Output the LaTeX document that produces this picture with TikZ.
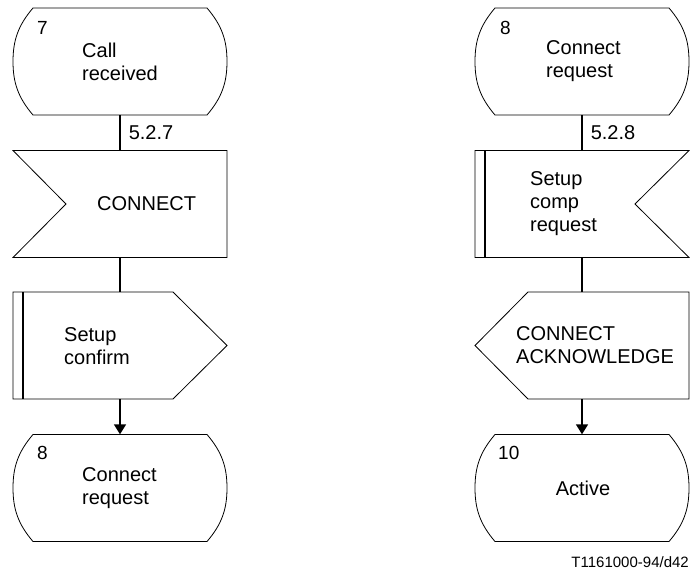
\documentclass[tikz,border=0pt]{standalone}
\usepackage{fontspec}
\setmainfont{Liberation Sans}
\usetikzlibrary{arrows.meta}

\tikzset{
  sym/.style={minimum width=214pt, minimum height=107pt, inner sep=0pt},
  outline/.style={draw, line width=0.8pt, line join=miter},
  bar/.style={line width=2pt},
  link/.style={line width=1.6pt},
  arr/.style={link, -{Triangle[width=12pt,length=10pt]}},
  txt/.style={anchor=west, align=left, inner sep=0pt, font=\fontsize{20}{23}\selectfont},
  num/.style={anchor=west, inner sep=0pt, font=\fontsize{19}{21}\selectfont},
}

% state symbol
\newcommand{\stateshape}[1]{%
  \draw[outline, shift={(#1.center)}] (-87,-53.5) -- (87,-53.5)
    .. controls (102,-36) and (107,-21) .. (107,0)
    .. controls (107,21) and (102,36) .. (87,53.5) -- (-87,53.5)
    .. controls (-102,36) and (-107,21) .. (-107,0)
    .. controls (-107,-21) and (-102,-36) .. (-87,-53.5) -- cycle;}

\begin{document}
\begin{tikzpicture}[x=1pt, y=-1pt]
\useasboundingbox (0,0) rectangle (694,574);

% left column
\node[sym] (st7) at (120,61.5) {};
\node[sym] (inconn) at (120,204) {};
\node[sym] (outconf) at (120,345.5) {};
\node[sym] (st8a) at (120,488) {};

% right column
\node[sym] (st8b) at (582,61.5) {};
\node[sym] (incomp) at (582,204) {};
\node[sym] (outack) at (582,345.5) {};
\node[sym] (st10) at (582,488) {};

\stateshape{st7}
\stateshape{st8a}
\stateshape{st8b}
\stateshape{st10}

\draw[outline, shift={(inconn.center)}] (-107,-53.5) -- (107,-53.5) -- (107,53.5) -- (-107,53.5) -- (-54,0) -- cycle;
\draw[outline, shift={(outconf.center)}] (-107,-53.5) -- (53,-53.5) -- (107,0) -- (53,53.5) -- (-107,53.5) -- cycle;
\draw[bar, shift={(outconf.center)}] (-97,-53.5) -- (-97,53.5);
\draw[outline, shift={(incomp.center)}] (-107,-53.5) -- (107,-53.5) -- (53,0) -- (107,53.5) -- (-107,53.5) -- cycle;
\draw[bar, shift={(incomp.center)}] (-97,-53.5) -- (-97,53.5);
\draw[outline, shift={(outack.center)}] (-107,0) -- (-54,-53.5) -- (107,-53.5) -- (107,53.5) -- (-54,53.5) -- cycle;

% texts
\node[num] (n7) at (37,27.5) {7};
\node[txt] (t7) at (82,61.5) {Call\\received};
\node[txt] (tconn) at (97,204) {CONNECT};
\node[txt] (tconf) at (64,346) {Setup\\confirm};
\node[num] (n8a) at (37,453) {8};
\node[txt] (t8a) at (82,488) {Connect\\request};

\node[num] (n8b) at (500,27.5) {8};
\node[txt] (t8b) at (546,61.5) {Connect\\request};
\node[txt] (tcomp) at (530,204) {Setup\\comp\\request};
\node[txt] (tack) at (516,345.5) {CONNECT\\ACKNOWLEDGE};
\node[num] (n10) at (498,453) {10};
\node[txt, anchor=center] (t10) at (583,488) {Active};

\node[anchor=east, inner sep=0pt, font=\fontsize{15}{17}\selectfont] (ref) at (689,562) {T1161000-94/d42};

% connectors
\draw[link] (st7) -- node[txt, xshift=8pt] {5.2.7} (inconn);
\draw[link] (inconn) -- (outconf);
\draw[arr] (outconf) -- (st8a);
\draw[link] (st8b) -- node[txt, xshift=8pt] {5.2.8} (incomp);
\draw[link] (incomp) -- (outack);
\draw[arr] (outack) -- (st10);
\end{tikzpicture}
\end{document}
